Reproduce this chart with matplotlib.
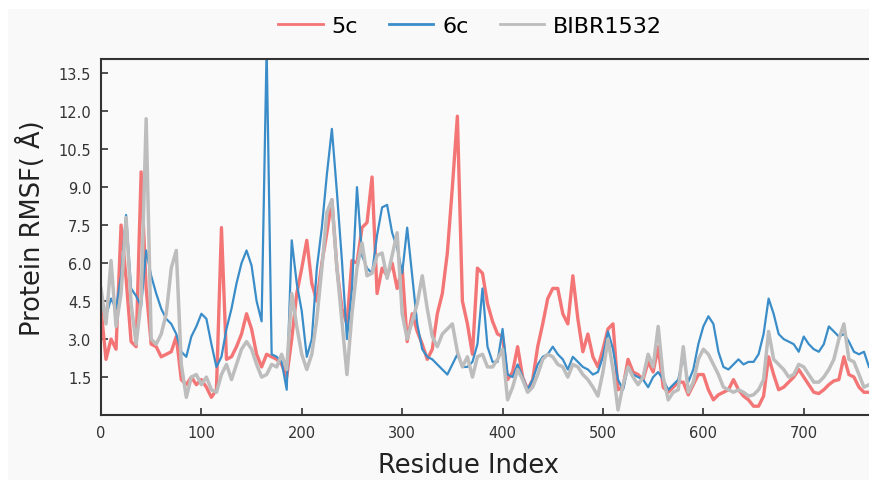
import matplotlib
matplotlib.use("Agg")
import matplotlib.pyplot as plt
import numpy as np
from matplotlib.patches import Rectangle

# residue index, every 5th residue
residue = np.arange(0, 766, 5)

rmsf_5c = [
    4.2, 2.2, 3.0, 2.6, 7.5, 5.4, 2.9, 2.7, 9.6, 5.0,
    2.8, 2.7, 2.3, 2.4, 2.5, 3.1, 1.4, 1.2, 1.5, 1.2,
    1.4, 1.1, 0.7, 1.0, 7.4, 2.2, 2.3, 2.7, 3.2, 4.0,
    3.4, 2.4, 1.9, 2.4, 2.3, 2.2, 2.0, 1.5, 3.0, 4.8,
    5.8, 6.9, 5.2, 4.5, 6.0, 7.2, 8.5, 5.8, 4.2, 3.6,
    6.1, 6.0, 7.4, 7.6, 9.4, 4.8, 5.8, 5.5, 6.0, 5.0,
    5.8, 2.9, 4.0, 3.3, 2.8, 2.2, 2.6, 4.0, 4.8, 6.4,
    9.0, 11.8, 4.5, 3.6, 2.4, 5.8, 5.6, 4.4, 3.7, 3.2,
    3.1, 1.4, 1.7, 2.7, 1.5, 1.0, 1.4, 2.7, 3.6, 4.6,
    5.0, 5.0, 4.0, 3.6, 5.5, 3.8, 2.5, 3.2, 2.3, 1.9,
    2.6, 3.4, 3.6, 1.0, 1.1, 2.2, 1.7, 1.6, 1.4, 2.1,
    1.7, 2.7, 1.1, 0.9, 1.1, 1.3, 1.3, 0.8, 1.2, 1.6,
    1.6, 1.0, 0.6, 0.8, 0.9, 1.0, 1.4, 1.0, 0.75, 0.6,
    0.35, 0.35, 0.75, 2.3, 1.6, 1.0, 1.1, 1.3, 1.5, 1.8,
    1.5, 1.2, 0.9, 0.85, 1.0, 1.2, 1.35, 1.4, 2.3, 1.6,
    1.5, 1.1, 0.9, 0.9,
]

rmsf_6c = [
    4.4, 3.9, 4.6, 4.2, 5.5, 7.9, 5.0, 4.7, 4.3, 6.5,
    5.5, 4.8, 4.2, 3.8, 3.6, 3.2, 2.5, 2.3, 3.1, 3.5,
    4.0, 3.8, 2.8, 1.9, 2.3, 3.4, 4.2, 5.2, 6.0, 6.5,
    5.9, 4.5, 3.7, 14.5, 2.4, 2.3, 2.1, 1.0, 6.9, 5.2,
    4.1, 2.3, 3.0, 5.8, 7.4, 9.5, 11.3, 8.8, 6.1, 3.0,
    5.0, 9.0, 6.3, 5.8, 5.6, 7.1, 8.2, 8.3, 7.2, 6.6,
    5.6, 7.4, 5.5, 3.6, 2.6, 2.3, 2.2, 2.0, 1.8, 1.6,
    2.0, 2.4, 1.9, 1.9, 2.1, 2.8, 5.0, 2.7, 2.1, 2.1,
    3.4, 1.6, 1.5, 2.0, 1.5, 1.0, 1.4, 2.0, 2.3, 2.4,
    2.7, 2.4, 2.2, 1.8, 2.3, 2.1, 1.9, 1.8, 1.6, 1.7,
    2.3, 3.3, 2.6, 1.4, 1.0, 1.9, 1.6, 1.5, 1.4, 1.1,
    1.5, 1.7, 1.4, 1.0, 1.2, 1.4, 2.3, 1.3, 1.8, 2.8,
    3.5, 3.9, 3.6, 2.5, 1.9, 1.8, 2.0, 2.2, 2.0, 2.1,
    2.1, 2.4, 3.2, 4.6, 4.0, 3.2, 3.0, 2.9, 2.8, 2.5,
    3.1, 2.8, 2.6, 2.5, 2.8, 3.5, 3.3, 3.1, 3.2, 2.9,
    2.5, 2.4, 2.5, 1.9,
]

rmsf_bibr = [
    5.0, 3.6, 6.1, 3.5, 4.8, 7.8, 4.4, 2.8, 4.5, 11.7,
    3.0, 2.8, 3.2, 4.0, 5.8, 6.5, 2.0, 0.7, 1.5, 1.6,
    1.2, 1.5, 1.0, 0.9, 1.6, 2.0, 1.4, 2.0, 2.6, 2.9,
    2.6, 2.0, 1.5, 1.6, 2.0, 1.9, 2.4, 1.8, 4.8, 3.5,
    2.4, 1.8, 2.4, 3.8, 5.8, 8.0, 8.5, 5.8, 3.7, 1.6,
    4.0, 5.8, 6.8, 5.5, 5.6, 6.3, 6.4, 5.4, 6.3, 7.2,
    4.0, 3.0, 3.7, 4.4, 5.5, 4.2, 3.1, 2.7, 3.2, 3.4,
    3.6, 2.5, 1.9, 2.3, 1.5, 2.3, 2.4, 1.9, 1.9, 2.2,
    2.6, 0.6, 1.1, 1.8, 1.4, 0.9, 1.1, 1.6, 2.2, 2.4,
    2.3, 2.0, 1.9, 1.5, 2.0, 1.9, 1.6, 1.4, 1.1, 0.75,
    1.7, 3.0, 1.8, 0.2, 1.2, 1.9, 1.5, 1.2, 1.5, 2.4,
    1.9, 3.5, 1.5, 0.6, 0.9, 1.0, 2.7, 0.9, 1.3, 2.2,
    2.6, 2.4, 2.0, 1.6, 1.1, 1.0, 0.9, 1.0, 0.9, 0.75,
    0.8, 1.0, 1.4, 3.3, 2.2, 2.0, 1.8, 1.5, 1.6, 2.0,
    1.9, 1.6, 1.3, 1.3, 1.5, 1.8, 2.2, 3.0, 3.6, 2.2,
    2.1, 1.6, 1.1, 1.2,
]

labels = ["5c", "6c", "BIBR1532"]
colors = ["#f47575", "#3a8dc8", "#bdbdbd"]
yticks = [1.5, 3.0, 4.5, 6.0, 7.5, 9.0, 10.5, 12.0, 13.5]
xticks = [0, 100, 200, 300, 400, 500, 600, 700]

bg = "#f9f9f9"
fig = plt.figure(figsize=(8.69, 4.81), dpi=100, facecolor="white")
fig.patches.append(Rectangle((0.009, 0), 1, 0.979, transform=fig.transFigure,
                             facecolor=bg, edgecolor="none", zorder=-10))
ax = fig.add_axes([0.1162, 0.135, 0.8838, 0.7403])
ax.set_facecolor("#fafafa")

ax.plot(residue, rmsf_5c, color=colors[0], lw=2.4, label=labels[0])
ax.plot(residue, rmsf_6c, color=colors[1], lw=1.6, label=labels[1])
ax.plot(residue, rmsf_bibr, color=colors[2], lw=2.5, label=labels[2])

ax.set_xlim(0, 765)
ax.set_ylim(0, 14.06)
ax.set_xticks(xticks)
ax.set_yticks(yticks)
ax.set_yticklabels(["%.1f" % t for t in yticks])
ax.tick_params(direction="in", length=5, width=1.2, labelsize=10.5,
               colors="#333333", pad=7)

for side in ["left", "bottom", "top"]:
    ax.spines[side].set_color("#333333")
    ax.spines[side].set_linewidth(1.5)
ax.spines["right"].set_visible(False)

ax.set_xlabel("Residue Index", fontsize=18.5, color="#222222")
ax.set_ylabel("Protein RMSF( Å)", fontsize=18.5, color="#222222")
ax.xaxis.set_label_coords(0.478, -0.105)
ax.yaxis.set_label_coords(-0.072, 0.528)

leg = fig.legend(loc="center", bbox_to_anchor=(0.541, 0.944), ncol=3, frameon=False,
                 fontsize=16, handlelength=2.0, handletextpad=0.4, columnspacing=1.4)
for line in leg.get_lines():
    line.set_linewidth(2.0)

fig.savefig("out.png", dpi=100, facecolor=fig.get_facecolor())
